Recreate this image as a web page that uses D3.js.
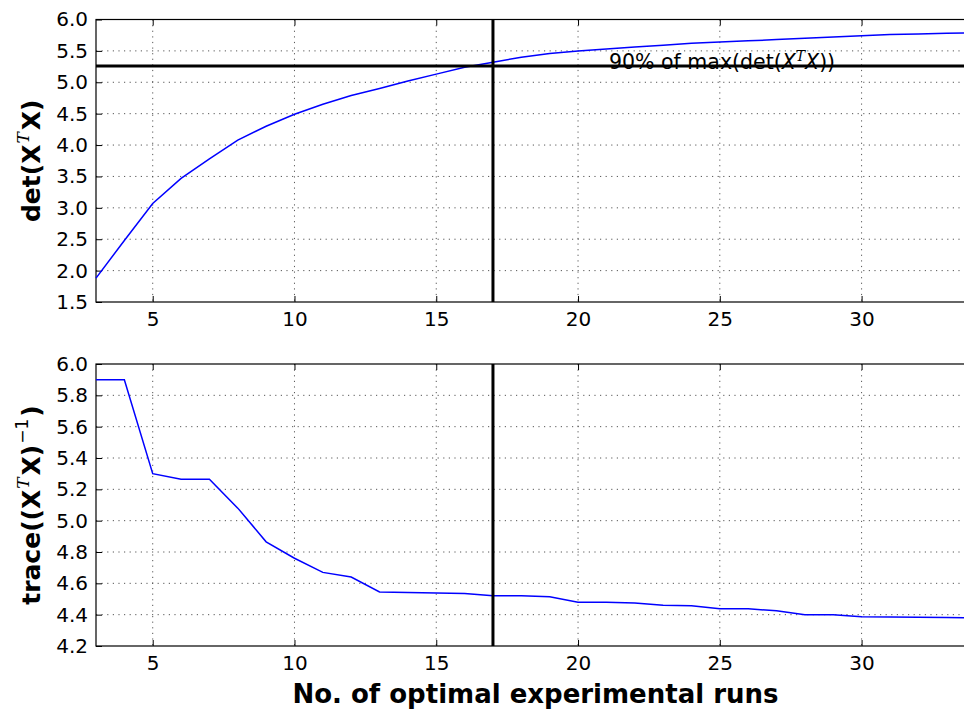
<!DOCTYPE html>
<html><head><meta charset="utf-8">
<script src="https://cdn.jsdelivr.net/npm/d3@7"></script>
<style>
html,body{margin:0;padding:0;background:#fff;overflow:hidden}
text{font-family:"DejaVu Sans",sans-serif;fill:#000}
</style></head>
<body>
<svg id="c" width="964" height="713"></svg>
<script>
const runs = [3,4,5,6,7,8,9,10,11,12,13,14,15,16,17,18,19,20,21,22,23,24,25,26,27,28,29,30,31,32,33,34];
const detValues = [1.88,2.48,3.07,3.47,3.78,4.08,4.30,4.49,4.65,4.79,4.90,5.02,5.13,5.24,5.32,5.40,5.46,5.50,5.53,5.56,5.59,5.62,5.64,5.66,5.68,5.70,5.72,5.74,5.76,5.77,5.78,5.79];
const traceValues = [5.90,5.90,5.30,5.265,5.265,5.08,4.865,4.76,4.67,4.64,4.545,4.542,4.538,4.535,4.52,4.52,4.515,4.48,4.48,4.475,4.46,4.457,4.437,4.437,4.425,4.40,4.40,4.386,4.385,4.383,4.382,4.38];
const xTicks = [5,10,15,20,25,30];
const detTicks = [1.5,2.0,2.5,3.0,3.5,4.0,4.5,5.0,5.5,6.0];
const traceTicks = [4.2,4.4,4.6,4.8,5.0,5.2,5.4,5.6,5.8,6.0];
const chosenRuns = 17;
const detThreshold = 5.26;

const svg = d3.select("#c");
const x = d3.scaleLinear().domain([3,34]).range([96,975]);
const yTop = d3.scaleLinear().domain([1.5,6.0]).range([302,19.5]);
const yBot = d3.scaleLinear().domain([4.2,6.0]).range([646,364]);

function panel(y, yTicks, values, fmt){
  const g = svg.append("g");
  const [y0,y1] = y.range();
  g.selectAll(".gx").data(xTicks).join("line")
    .attr("x1",d=>x(d)).attr("x2",d=>x(d)).attr("y1",y1).attr("y2",y0)
    .attr("stroke","#444").attr("stroke-width",0.9).attr("stroke-dasharray","1.2,4.4");
  g.selectAll(".gy").data(yTicks.slice(1,-1)).join("line")
    .attr("x1",x.range()[0]).attr("x2",x.range()[1]).attr("y1",d=>y(d)).attr("y2",d=>y(d))
    .attr("stroke","#444").attr("stroke-width",0.9).attr("stroke-dasharray","1.2,4.4");
  const xa = d3.axisBottom(x).tickValues(xTicks).tickSize(-6).tickPadding(10).tickFormat(d3.format("d"));
  g.append("g").attr("transform",`translate(0,${y0})`).call(xa)
    .call(s=>{s.select(".domain").remove();s.selectAll("text").attr("font-size",20).attr("font-family","DejaVu Sans").attr("fill","#1a1a1a");s.selectAll("line").attr("stroke","#000");});
  const xt = d3.axisTop(x).tickValues(xTicks).tickSize(-6).tickFormat("");
  g.append("g").attr("transform",`translate(0,${y1})`).call(xt)
    .call(s=>{s.select(".domain").remove();s.selectAll("line").attr("stroke","#000");});
  const ya = d3.axisLeft(y).tickValues(yTicks).tickSize(-6).tickPadding(8).tickFormat(d3.format(fmt));
  g.append("g").attr("transform",`translate(${x.range()[0]},0)`).call(ya)
    .call(s=>{s.select(".domain").remove();s.selectAll("text").attr("font-size",20).attr("font-family","DejaVu Sans").attr("fill","#1a1a1a");s.selectAll("line").attr("stroke","#000");});
  g.append("rect").attr("x",x.range()[0]).attr("y",y1).attr("width",x.range()[1]-x.range()[0]).attr("height",y0-y1)
    .attr("fill","none").attr("stroke","#000").attr("stroke-width",1.2);
  const line = d3.line().x((d,i)=>x(runs[i])).y(d=>y(d));
  g.append("path").datum(values).attr("d",line).attr("fill","none").attr("stroke","#0000ff").attr("stroke-width",1.5);
  g.append("line").attr("x1",x(chosenRuns)).attr("x2",x(chosenRuns)).attr("y1",y1).attr("y2",y0)
    .attr("stroke","#000").attr("stroke-width",3);
  return g;
}

const gTop = panel(yTop, detTicks, detValues, ".1f");
gTop.append("line").attr("x1",x.range()[0]).attr("x2",x.range()[1]).attr("y1",yTop(detThreshold)).attr("y2",yTop(detThreshold))
  .attr("stroke","#000").attr("stroke-width",3);
const ann = gTop.append("text").attr("x",609).attr("y",yTop(detThreshold)+3.5).attr("font-size",20.5).attr("fill","#1a1a1a");
ann.append("tspan").text("90% of max(det(");
ann.append("tspan").attr("font-style","italic").text("X");
ann.append("tspan").attr("dy",-8).attr("font-size",14).attr("font-style","italic").attr("font-family","DejaVu Serif").text("T");
ann.append("tspan").attr("dy",8).attr("font-style","italic").text("X");
ann.append("tspan").text("))");

const gBot = panel(yBot, traceTicks, traceValues, ".1f");

const l1 = svg.append("text").attr("transform",`translate(40,${(302+19.5)/2}) rotate(-90)`).attr("text-anchor","middle")
  .attr("font-size",25).attr("font-weight","bold");
l1.append("tspan").text("det(X");
l1.append("tspan").attr("dy",-11).attr("dx",1).attr("font-size",17).attr("font-weight","normal").attr("font-style","italic").attr("font-family","DejaVu Serif").text("T");
l1.append("tspan").attr("dy",11).attr("dx",2).text("X)");

const l2 = svg.append("text").attr("transform",`translate(40,${(646+364)/2}) rotate(-90)`).attr("text-anchor","middle")
  .attr("font-size",25).attr("font-weight","bold");
l2.append("tspan").text("trace((X");
l2.append("tspan").attr("dy",-11).attr("dx",1).attr("font-size",17).attr("font-weight","normal").attr("font-style","italic").attr("font-family","DejaVu Serif").text("T");
l2.append("tspan").attr("dy",11).attr("dx",2).text("X)");
l2.append("tspan").attr("dy",-12).attr("dx",1).attr("font-size",17).attr("font-weight","normal").text("−1");
l2.append("tspan").attr("dy",12).attr("dx",2).text(")");

svg.append("text").attr("x",(96+975)/2).attr("y",703).attr("text-anchor","middle")
  .attr("font-size",26).attr("font-weight","bold").text("No. of optimal experimental runs");
</script>
</body></html>
